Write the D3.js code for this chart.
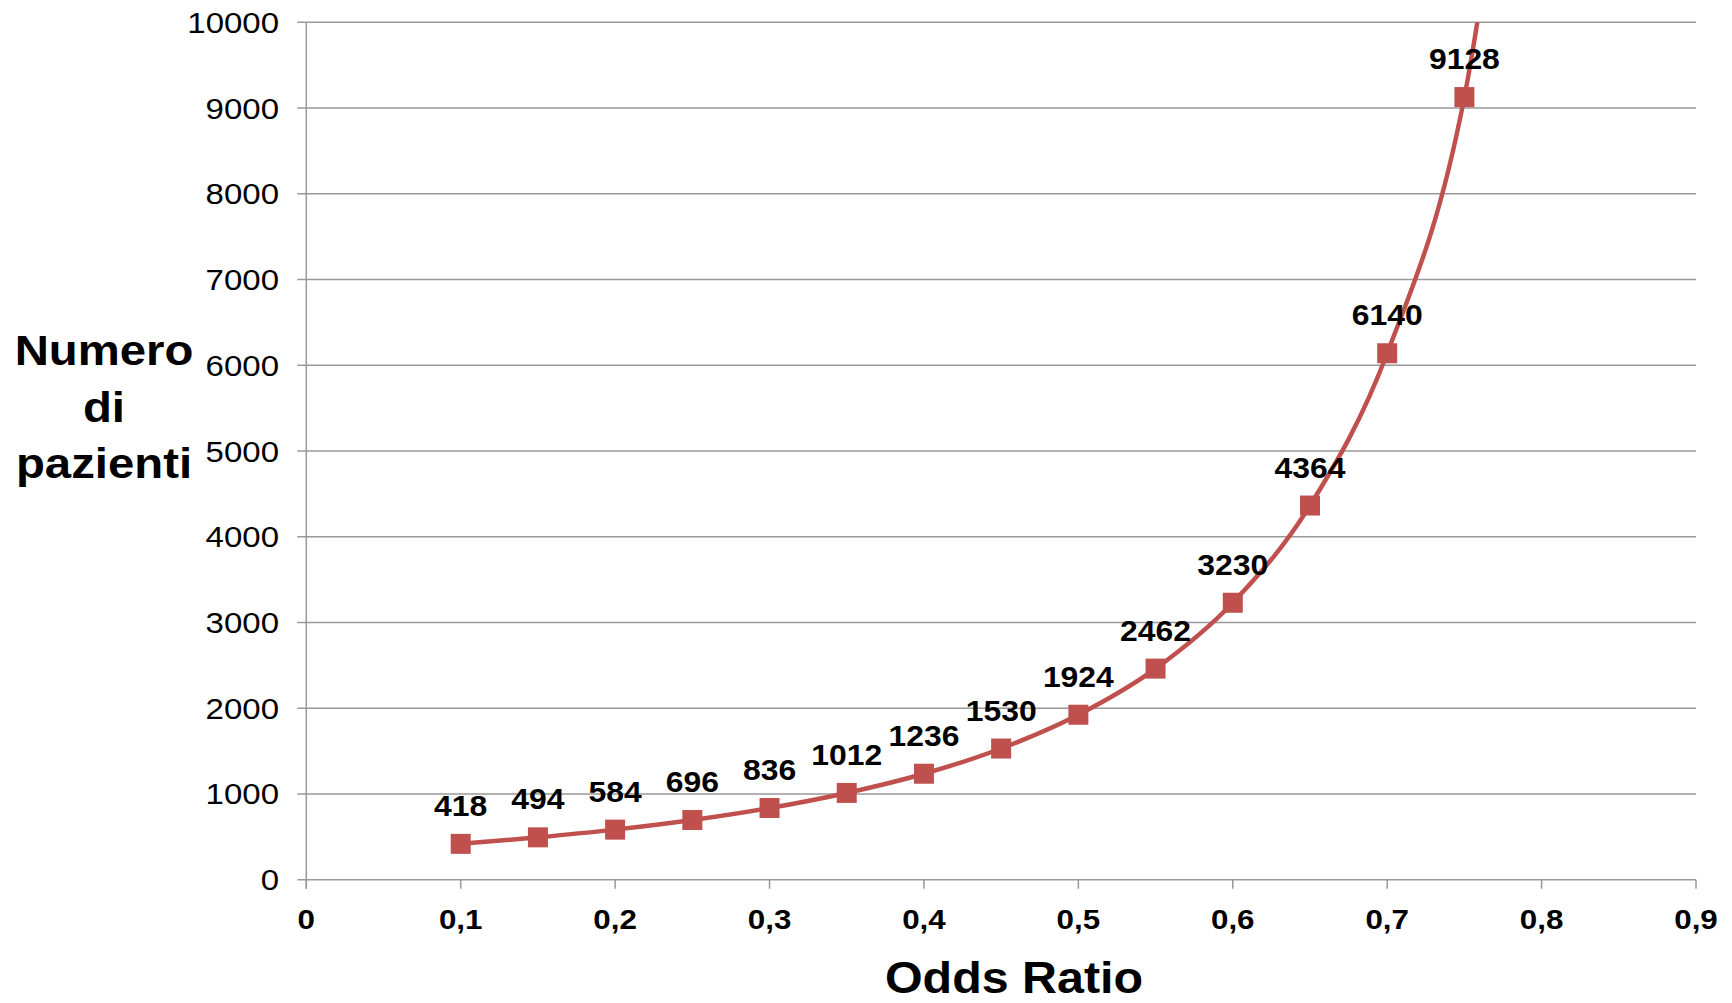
<!DOCTYPE html>
<html><head><meta charset="utf-8">
<script src="https://cdn.jsdelivr.net/npm/d3@7"></script>
<style>html,body{margin:0;padding:0;background:#fff;}</style>
</head><body>
<svg id="chart" width="1732" height="1003"></svg>
<script>
const oddsRatio = [0.1,0.15,0.2,0.25,0.3,0.35,0.4,0.45,0.5,0.55,0.6,0.65,0.7,0.75];
const patients  = [418,494,584,696,836,1012,1236,1530,1924,2462,3230,4364,6140,9128];
// off-chart continuation of the smoothed line (clipped at 10000)
const extraOR = [0.8];
const extraPatients = [15400];
const xTicks = [0,0.1,0.2,0.3,0.4,0.5,0.6,0.7,0.8,0.9];
const yTicks = [0,1000,2000,3000,4000,5000,6000,7000,8000,9000,10000];
const yTitleLines = ["Numero","di","pazienti"];
const xTitle = "Odds Ratio";

const svg = d3.select("#chart");
const L=306.3, R=1696, T=22.3, B=879.7;
const x = d3.scaleLinear().domain([0,0.9]).range([L,R]);
const y = d3.scaleLinear().domain([0,10000]).range([B,T]);
const font = "'Liberation Sans', Arial, sans-serif";
const grid = "#999";
const SX = 1.1;
const tf = (px,py)=>`translate(${px},${py}) scale(${SX},1)`;

// gridlines
svg.append("g").selectAll("line").data(yTicks).join("line")
  .attr("x1",L-9).attr("x2",R).attr("y1",d=>y(d)).attr("y2",d=>y(d))
  .attr("stroke",grid).attr("stroke-width",1.5);
// y axis line
svg.append("line").attr("x1",L).attr("x2",L).attr("y1",T).attr("y2",B+9)
  .attr("stroke",grid).attr("stroke-width",1.5);
// x ticks
svg.append("g").selectAll("line").data(xTicks).join("line")
  .attr("x1",d=>x(d)).attr("x2",d=>x(d)).attr("y1",B).attr("y2",B+9)
  .attr("stroke",grid).attr("stroke-width",1.5);

// y tick labels
svg.append("g").selectAll("text").data(yTicks).join("text")
  .attr("transform",d=>tf(279,y(d)+10.5)).attr("text-anchor","end")
  .attr("font-family",font).attr("font-size",30).attr("fill","#000")
  .text(d=>d);
// x tick labels
svg.append("g").selectAll("text").data(xTicks).join("text")
  .attr("transform",d=>tf(x(d),929)).attr("text-anchor","middle")
  .attr("font-family",font).attr("font-size",28.5).attr("font-weight","bold").attr("fill","#000")
  .text(d=>d===0?"0":String(d).replace(".",","));

// titles
svg.append("text").attr("transform",tf(1014,993)).attr("text-anchor","middle")
  .attr("font-family",font).attr("font-size",44).attr("font-weight","bold").text(xTitle);
svg.append("g").selectAll("text").data(yTitleLines).join("text")
  .attr("transform",(d,i)=>tf(104,365+i*56.5)).attr("text-anchor","middle")
  .attr("font-family",font).attr("font-size",43).attr("font-weight","bold").text(d=>d);

// clip
svg.append("clipPath").attr("id","clip").append("rect")
  .attr("x",L).attr("y",T).attr("width",R-L+20).attr("height",B-T);

const color = "#C0504D";
const pts = oddsRatio.map((o,i)=>[o,patients[i]]);
const linePts = pts.concat(extraOR.map((o,i)=>[o,extraPatients[i]]));
const line = d3.line().x(d=>x(d[0])).y(d=>y(d[1])).curve(d3.curveCardinal.tension(0));
svg.append("path").attr("d",line(linePts)).attr("clip-path","url(#clip)")
  .attr("fill","none").attr("stroke",color).attr("stroke-width",4.5);

// markers
svg.append("g").selectAll("rect").data(pts).join("rect")
  .attr("x",d=>x(d[0])-10).attr("y",d=>y(d[1])-10).attr("width",20).attr("height",20)
  .attr("fill",color);

// data labels
svg.append("g").selectAll("text").data(pts).join("text")
  .attr("transform",d=>tf(x(d[0]),y(d[1])-28)).attr("text-anchor","middle")
  .attr("font-family",font).attr("font-size",29).attr("font-weight","bold").attr("fill","#000")
  .text(d=>d[1]);
</script>
</body></html>
